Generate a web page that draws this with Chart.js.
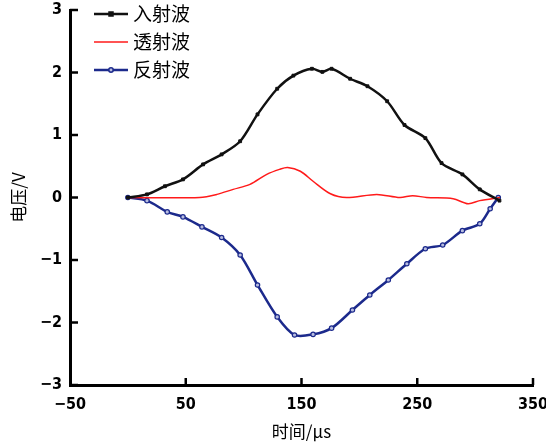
<!DOCTYPE html>
<html>
<head>
<meta charset="utf-8">
<script src="https://cdn.jsdelivr.net/npm/chart.js@4"></script>
<style>
  html, body { margin: 0; padding: 0; background: #fff; }
  #wrap { width: 546px; height: 448px; }
</style>
</head>
<body>
<div id="wrap"><canvas id="chart" width="546" height="448"></canvas></div>
<script>
// --- datos ---
const seriesNames = ['入射波', '透射波', '反射波'];

// incidente (negro)
const incX = [0, 16.5, 32, 47.6, 65, 81, 97, 112, 129, 143, 159, 168, 176, 192, 207, 224, 239, 257, 271, 289, 304, 321];
const incY = [0, 0.05, 0.18, 0.29, 0.53, 0.69, 0.90, 1.33, 1.74, 1.95, 2.06, 2.01, 2.06, 1.90, 1.78, 1.54, 1.16, 0.95, 0.55, 0.37, 0.13, -0.05];

// transmitida (rojo)
const traX = [0, 62, 77, 91, 105.5, 120, 131, 138, 149, 160, 175, 189, 215, 235, 246, 258, 281, 294, 304, 321.5];
const traY = [0, 0, 0.05, 0.13, 0.21, 0.37, 0.45, 0.48, 0.42, 0.26, 0.06, 0, 0.05, 0, 0.03, 0, -0.02, -0.10, -0.05, 0];

// reflejada (azul)
const refX = [0, 16.5, 34, 47.6, 64, 81, 97, 112, 129, 144, 160, 176, 194, 209, 225, 241, 257, 272, 289, 304, 313, 320];
const refY = [0, -0.05, -0.23, -0.31, -0.47, -0.64, -0.92, -1.40, -1.91, -2.20, -2.19, -2.09, -1.80, -1.56, -1.32, -1.06, -0.82, -0.76, -0.53, -0.42, -0.18, 0];

const xTicks = [-50, 50, 150, 250, 350];
const yTicks = [-3, -2, -1, 0, 1, 2, 3];

const toPts = (xs, ys) => xs.map((x, i) => ({ x: x, y: ys[i] }));

const tickFont = { family: "'DejaVu Sans Condensed', 'DejaVu Sans', sans-serif", size: 16, weight: 'bold' };
const cjkFont = "'Noto Sans CJK SC', 'DejaVu Serif', serif";

// ticks hacia adentro, como en el original
const inwardTicks = {
  id: 'inwardTicks',
  afterDraw(chart) {
    const { ctx, chartArea, scales } = chart;
    ctx.save();
    ctx.strokeStyle = '#000';
    ctx.lineWidth = 2.5;
    scales.x.ticks.forEach(t => {
      const px = scales.x.getPixelForValue(t.value);
      if (Math.abs(px - chartArea.left) < 3) return;
      ctx.beginPath();
      ctx.moveTo(px, chartArea.bottom);
      ctx.lineTo(px, chartArea.bottom - 7);
      ctx.stroke();
    });
    scales.y.ticks.forEach(t => {
      const py = scales.y.getPixelForValue(t.value);
      ctx.beginPath();
      ctx.moveTo(chartArea.left, py);
      ctx.lineTo(chartArea.left + 8, py);
      ctx.stroke();
    });
    ctx.restore();
  }
};

// leyenda dentro del area, arriba a la izquierda
const innerLegend = {
  id: 'innerLegend',
  afterDraw(chart) {
    const { ctx } = chart;
    const x0 = 94, x1 = 128, rows = [14, 42, 70];
    ctx.save();
    chart.data.datasets.forEach((ds, i) => {
      const y = rows[i];
      ctx.strokeStyle = ds.borderColor;
      ctx.lineWidth = ds.borderWidth;
      ctx.beginPath();
      ctx.moveTo(x0, y);
      ctx.lineTo(x1, y);
      ctx.stroke();
      if (ds.pointRadius > 0) {
        const mx = (x0 + x1) / 2;
        ctx.lineWidth = 1.5;
        ctx.fillStyle = ds.pointBackgroundColor;
        ctx.strokeStyle = ds.pointBorderColor;
        ctx.beginPath();
        if (ds.pointStyle === 'rect') {
          ctx.rect(mx - 2, y - 2, 4, 4);
        } else {
          ctx.arc(mx, y, 2.2, 0, Math.PI * 2);
        }
        ctx.fill();
        ctx.stroke();
      }
      ctx.fillStyle = '#000';
      ctx.font = '19px ' + cjkFont;
      ctx.textBaseline = 'middle';
      ctx.fillText(ds.label, 133, y);
    });
    ctx.restore();
  }
};

new Chart(document.getElementById('chart').getContext('2d'), {
  type: 'line',
  data: {
    datasets: [
      { label: seriesNames[0], data: toPts(incX, incY), borderColor: '#111', borderWidth: 2.5,
        pointStyle: 'rect', pointRadius: 2, pointBorderWidth: 1, pointBackgroundColor: '#111', pointBorderColor: '#111', tension: 0.3 },
      { label: seriesNames[1], data: toPts(traX, traY), borderColor: '#ff1a1a', borderWidth: 1.5,
        pointRadius: 0, tension: 0.3 },
      { label: seriesNames[2], data: toPts(refX, refY), borderColor: '#1c2a8c', borderWidth: 2.5,
        pointStyle: 'circle', pointRadius: 2.2, pointBorderWidth: 1.2, pointBackgroundColor: '#b8bde0', pointBorderColor: '#1c2a8c', tension: 0.3 }
    ]
  },
  options: {
    responsive: false,
    animation: false,
    layout: { padding: 0 },
    plugins: { legend: { display: false }, tooltip: { enabled: false } },
    scales: {
      x: {
        type: 'linear', min: -50, max: 350,
        afterBuildTicks: s => { s.ticks = xTicks.map(v => ({ value: v })); },
        afterFit: s => { s.height = 63; s.paddingRight = 13; s.paddingLeft = 0; },
        grid: { display: false, drawTicks: false },
        border: { display: true, color: '#000', width: 3 },
        ticks: { color: '#000', font: tickFont, padding: 10, maxRotation: 0,
          callback: v => String(v).replace('-', '−') },
        title: { display: true, text: '时间/μs', color: '#000', font: { family: cjkFont, size: 17 }, padding: { top: 4, bottom: 6 } }
      },
      y: {
        min: -3, max: 3,
        afterBuildTicks: s => { s.ticks = yTicks.map(v => ({ value: v })); },
        afterFit: s => { s.width = 70; s.paddingTop = 10; s.paddingBottom = 0; },
        grid: { display: false, drawTicks: false },
        border: { display: true, color: '#000', width: 3 },
        ticks: { color: '#000', font: tickFont, padding: 8,
          callback: v => String(v).replace('-', '−') },
        title: { display: true, text: '电压/V', color: '#000', font: { family: cjkFont, size: 17 }, padding: { top: 8, bottom: 0 } }
      }
    }
  },
  plugins: [inwardTicks, innerLegend]
});
</script>
</body>
</html>
